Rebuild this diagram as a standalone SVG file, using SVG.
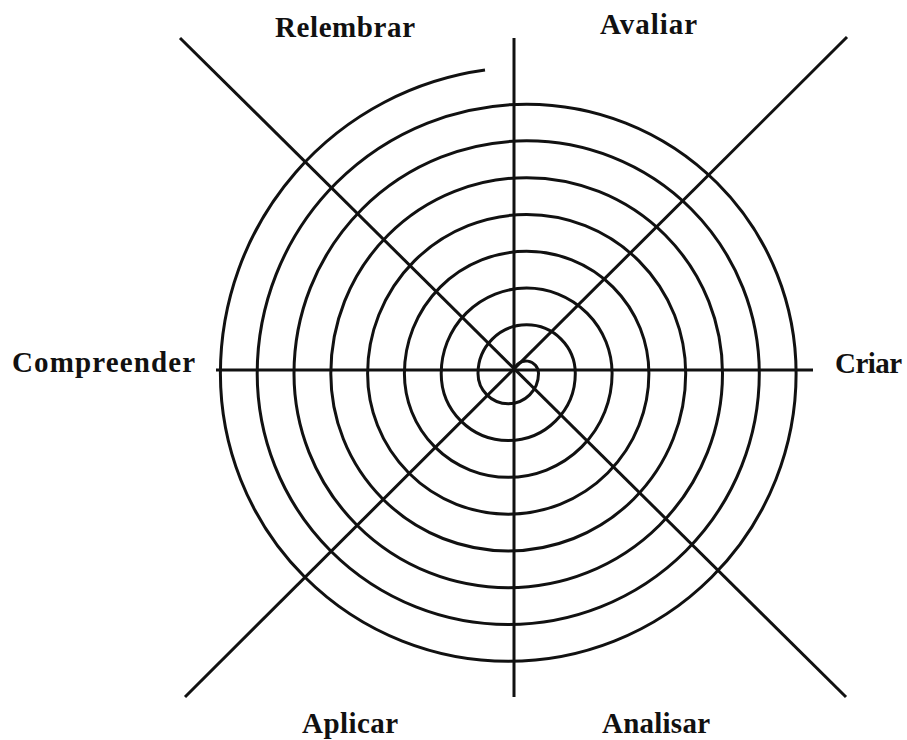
<svg xmlns="http://www.w3.org/2000/svg" width="907" height="740" viewBox="0 0 907 740">
  <style>
    .ln { stroke: #111; stroke-width: 3; fill: none; stroke-linecap: butt; }
    .sp { stroke: #111; stroke-width: 3; fill: none; stroke-linejoin: round; }
    .lbl { font-family: "Liberation Serif", "Times New Roman", serif; font-weight: bold; font-size: 29px; fill: #111; }
  </style>
  <rect width="907" height="740" fill="#fff"/>
  <g id="connectors">
    <line class="ln" x1="514" y1="38" x2="514" y2="697"/>
    <line class="ln" x1="216" y1="370" x2="813" y2="370"/>
    <line class="ln" x1="180" y1="38" x2="846" y2="697"/>
    <line class="ln" x1="847" y1="37" x2="185" y2="697"/>
  </g>
  <g id="spiral">
    <path class="sp" d="M514,370 A12.5,12.5 0 0 1 538.5,373.5
      A30.25,30.25 0 0 1 478,373.5
      A48.65,48.65 0 0 1 575.3,373.5
      A67.05,67.05 0 0 1 441.2,373.5
      A85.45,85.45 0 0 1 612.1,373.5
      A103.85,103.85 0 0 1 404.4,373.5
      A122.25,122.25 0 0 1 648.9,373.5
      A140.65,140.65 0 0 1 367.6,373.5
      A159.05,159.05 0 0 1 685.7,373.5
      A177.45,177.45 0 0 1 330.8,373.5
      A195.85,195.85 0 0 1 722.5,373.5
      A214.25,214.25 0 0 1 294,373.5
      A232.65,232.65 0 0 1 759.3,373.5
      A251.05,251.05 0 0 1 257.2,373.5
      A269.45,269.45 0 0 1 796.1,373.5
      A287.85,287.85 0 0 1 220.4,373.5
      A306.25,306.25 0 0 1 485,70"/>
  </g>
  <g id="relembrar"><text class="lbl" x="275" y="37" textLength="140" lengthAdjust="spacing">Relembrar</text></g>
  <g id="avaliar"><text class="lbl" x="600" y="34" textLength="97" lengthAdjust="spacing">Avaliar</text></g>
  <g id="compreender"><text class="lbl" x="12" y="372" textLength="183" lengthAdjust="spacing">Compreender</text></g>
  <g id="criar"><text class="lbl" x="835" y="373" textLength="67" lengthAdjust="spacing">Criar</text></g>
  <g id="aplicar"><text class="lbl" x="302" y="733" textLength="96" lengthAdjust="spacing">Aplicar</text></g>
  <g id="analisar"><text class="lbl" x="602" y="733" textLength="108" lengthAdjust="spacing">Analisar</text></g>
</svg>
